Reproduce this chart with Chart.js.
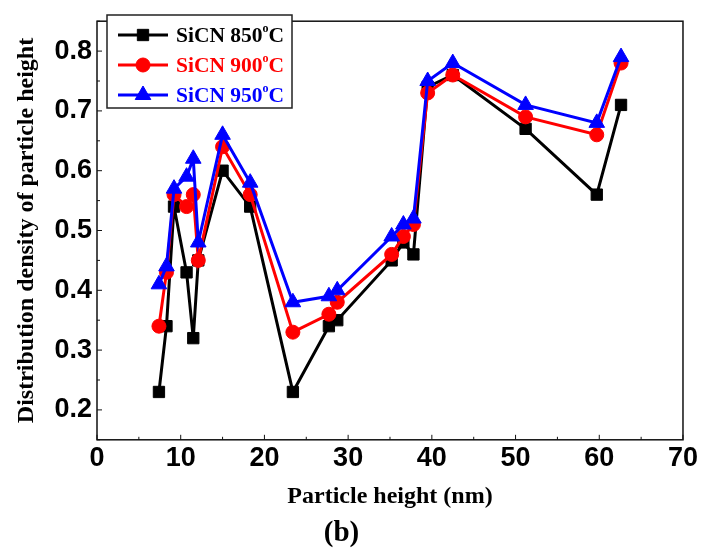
<!DOCTYPE html>
<html>
<head>
<meta charset="utf-8">
<script src="https://cdn.jsdelivr.net/npm/chart.js@4/dist/chart.umd.min.js"></script>
<style>
  html, body { margin: 0; padding: 0; background: #fff; }
  #wrap { width: 701px; height: 554px; }
</style>
</head>
<body>
<div id="wrap"><canvas id="dist-chart"></canvas></div>
<script>
// particle height (nm) and distribution density per annealing temperature
var heights = [7.4, 8.3, 9.2, 10.7, 11.5, 12.1, 15.0, 18.3, 23.4, 27.7, 28.7, 35.2, 36.6, 37.8, 39.5, 42.5, 51.2, 59.7, 62.6];
var sicn850 = [0.23, 0.34, 0.54, 0.43, 0.32, 0.45, 0.60, 0.54, 0.23, 0.34, 0.35, 0.45, 0.48, 0.46, 0.74, 0.76, 0.67, 0.56, 0.71];
var sicn900 = [0.34, 0.43, 0.56, 0.54, 0.56, 0.45, 0.64, 0.56, 0.33, 0.36, 0.38, 0.46, 0.49, 0.51, 0.73, 0.76, 0.69, 0.66, 0.78];
var sicn950 = [0.41, 0.44, 0.57, 0.59, 0.62, 0.48, 0.66, 0.58, 0.38, 0.39, 0.40, 0.49, 0.51, 0.52, 0.75, 0.78, 0.71, 0.68, 0.79];
var seriesNames = ['SiCN 850°C', 'SiCN 900°C', 'SiCN 950°C'];

var SANS = '"Liberation Sans", Arial, sans-serif';
var SERIF = '"Liberation Serif", "Times New Roman", serif';

function points(ys) {
    return heights.map(function (h, i) { return { x: h, y: ys[i] }; });
}

function series(label, ys, color, shape, radius, order) {
    return {
        label: label,
        data: points(ys),
        showLine: true,
        borderColor: color,
        backgroundColor: color,
        borderWidth: 3,
        pointStyle: shape,
        pointRadius: radius,
        pointHoverRadius: radius,
        pointBorderWidth: 1,
        pointBorderColor: color,
        pointBackgroundColor: color,
        order: order
    };
}

var datasets = [
    series(seriesNames[0], sicn850, '#000000', 'rect', 8, 3),
    series(seriesNames[1], sicn900, '#ff0000', 'circle', 7, 2),
    series(seriesNames[2], sicn950, '#0000ff', 'triangle', 9, 1)
];

function isLabelled(v, step) {
    var k = v / step;
    return Math.abs(k - Math.round(k)) < 1e-6;
}

// box around the plot + inward tick marks
var frame = {
    id: 'frame',
    afterDatasetsDraw: function (chart) {
        var c = chart.ctx, a = chart.chartArea;
        var xs = chart.scales.x, ys = chart.scales.y;
        c.save();
        c.strokeStyle = '#111';
        c.lineWidth = 1.5;
        c.strokeRect(a.left, a.top, a.right - a.left, a.bottom - a.top);
        c.lineWidth = 1;
        c.beginPath();
        xs.ticks.forEach(function (t) {
            var px = xs.getPixelForValue(t.value);
            var len = isLabelled(t.value, 10) ? 5 : 3;
            c.moveTo(px, a.bottom);
            c.lineTo(px, a.bottom - len);
        });
        ys.ticks.forEach(function (t) {
            var py = ys.getPixelForValue(t.value);
            var len = isLabelled(t.value, 0.1) ? 5 : 3;
            c.moveTo(a.left, py);
            c.lineTo(a.left + len, py);
        });
        c.stroke();
        c.restore();
    }
};

// boxed legend in the upper left corner
var boxLegend = {
    id: 'boxLegend',
    afterDraw: function (chart) {
        var c = chart.ctx;
        var bx = 107, by = 15, bw = 185, bh = 93;
        c.save();
        c.fillStyle = '#fff';
        c.fillRect(bx, by, bw, bh);
        c.strokeStyle = '#222';
        c.lineWidth = 1.5;
        c.strokeRect(bx, by, bw, bh);
        chart.data.datasets.forEach(function (ds, i) {
            var y = 35 + i * 30;
            c.strokeStyle = ds.borderColor;
            c.lineWidth = 3;
            c.beginPath();
            c.moveTo(118, y);
            c.lineTo(168, y);
            c.stroke();
            c.fillStyle = ds.borderColor;
            c.lineWidth = 1;
            Chart.helpers.drawPoint(c, {
                pointStyle: ds.pointStyle,
                radius: ds.pointRadius,
                borderWidth: 1
            }, 143, y);
            // label with the degree mark set as a raised small "o"
            var parts = ds.label.split('°');
            var x = 176;
            c.textBaseline = 'middle';
            c.textAlign = 'left';
            c.font = 'bold 21.5px ' + SERIF;
            c.fillText(parts[0], x, y + 1);
            x += c.measureText(parts[0]).width;
            c.font = 'bold 12px ' + SERIF;
            c.fillText('o', x, y - 6);
            x += c.measureText('o').width;
            c.font = 'bold 21.5px ' + SERIF;
            c.fillText(parts[1], x, y + 1);
        });
        c.restore();
    }
};

var chart = new Chart(document.getElementById('dist-chart'), {
    type: 'scatter',
    data: { datasets: datasets },
    options: {
        responsive: true,
        maintainAspectRatio: false,
        animation: false,
        layout: { padding: { top: 13, right: 18, left: 0, bottom: 0 } },
        plugins: {
            legend: { display: false },
            tooltip: { enabled: false },
            title: {
                display: true,
                text: '(b)',
                position: 'bottom',
                color: '#000',
                font: { family: SERIF, size: 29, weight: 'bold' },
                padding: { top: 0, bottom: 3 }
            }
        },
        scales: {
            x: {
                type: 'linear',
                min: 0,
                max: 70,
                grid: { display: false, drawTicks: false },
                border: { display: false },
                ticks: {
                    stepSize: 5,
                    autoSkip: false,
                    maxRotation: 0,
                    padding: 3,
                    color: '#000',
                    font: { family: SANS, size: 27, weight: 'bold' },
                    callback: function (v) { return isLabelled(v, 10) ? String(Math.round(v)) : ''; }
                },
                title: {
                    display: true,
                    text: 'Particle height (nm)',
                    color: '#000',
                    font: { family: SERIF, size: 24, weight: 'bold' },
                    padding: { top: 0, bottom: 5 }
                },
                afterFit: function (scale) { scale.height = 76.4; }
            },
            y: {
                min: 0.15,
                max: 0.85,
                grid: { display: false, drawTicks: false },
                border: { display: false },
                ticks: {
                    stepSize: 0.05,
                    autoSkip: false,
                    padding: 5,
                    color: '#000',
                    font: { family: SANS, size: 27, weight: 'bold' },
                    callback: function (v) {
                        if (v < 0.19 || v > 0.81) return '';
                        return isLabelled(v, 0.1) ? v.toFixed(1) : '';
                    }
                },
                title: {
                    display: true,
                    text: 'Distribution density of particle height',
                    color: '#000',
                    font: { family: SERIF, size: 24, weight: 'bold' },
                    padding: { top: 12.6, bottom: 0 }
                },
                afterFit: function (scale) { scale.width = 97; }
            }
        }
    },
    plugins: [frame, boxLegend]
});
</script>
</body>
</html>
